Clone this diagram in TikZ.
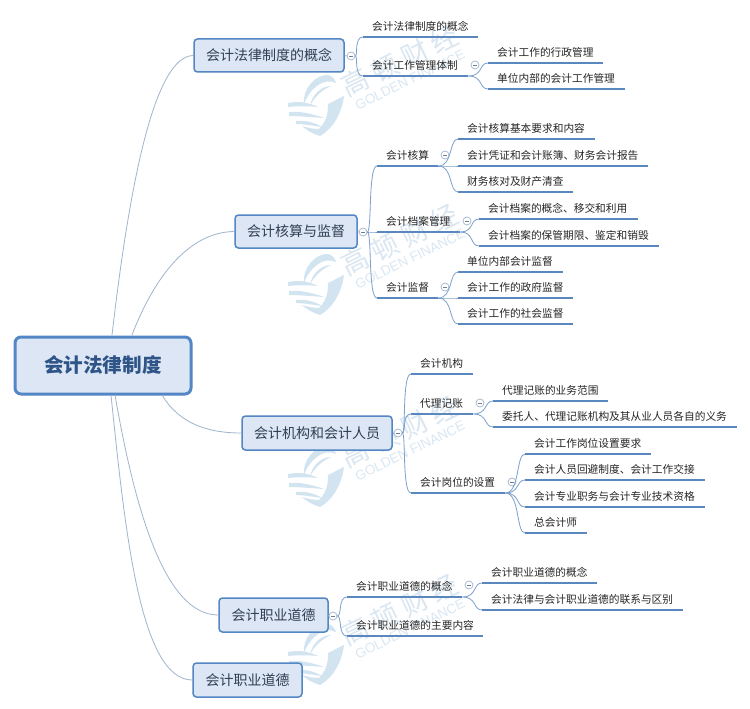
\documentclass[tikz,border=0pt]{standalone}
\usepackage{fontspec}
\setmainfont{Noto Sans CJK SC}
\newfontfamily\wmlatin{Liberation Sans}
\usetikzlibrary{calc}
\definecolor{boxfill}{HTML}{DCE6F4}
\definecolor{boxline}{HTML}{5286C4}
\definecolor{lineblue}{HTML}{5B87BF}
\definecolor{linklight}{HTML}{9FB5CE}
\definecolor{ctext}{HTML}{2F3E52}
\definecolor{subtext}{HTML}{262626}
\definecolor{roottext}{HTML}{2F5488}
\definecolor{wmc}{HTML}{D3E4F1}
\definecolor{wmt}{HTML}{DAE7F2}
\tikzset{
  rootbox/.style={draw=boxline,fill=boxfill,line width=3pt,rounded corners=6pt,font=\fontsize{19.6}{22}\selectfont\bfseries,text=roottext,inner sep=0pt},
  mainbox/.style={draw=boxline,fill=boxfill,line width=1.5pt,rounded corners=3.5pt,font=\fontsize{14}{16}\selectfont,text=ctext,inner sep=0pt},
  subtopic/.style={inner sep=0pt,minimum height=20pt,anchor=south west,align=left,font=\fontsize{10.7}{12}\selectfont,text=subtext},
  uline/.style={draw=lineblue,line width=1.8pt},
  link/.style={draw=linklight,line width=0.8pt},
  branch/.style={draw=lineblue!80!white,line width=0.8pt},
  fold/.style={circle,draw=linklight,fill=white,line width=0.7pt,minimum size=8pt,inner sep=0pt},
  wmcn/.style={text=wmt,inner sep=0pt}
}
% underlined topic: name, x0, x1, y of line, text offset, text
\newcommand{\subt}[6]{%
  \pgfmathsetlengthmacro{\subw}{(#3-#2)*1pt}%
  \node[subtopic,text width=\subw] (#1) at (#2,#4) {\hspace*{#5pt}#6};%
  \draw[uline] (#1.south west) -- (#1.south east);%
}
% fold mark with minus sign
\newcommand{\foldm}[3]{%
  \node[fold] (#1) at (#2,#3) {};%
  \draw[draw=linklight!70!black,line width=0.6pt] ([xshift=-2pt]#1.center) -- ([xshift=2pt]#1.center);%
}
% bracket-like branch
\newcommand{\brn}[2]{%
  \draw[branch] let \p1=(#1),\p2=(#2) in (\p1) .. controls (\x2-5pt,\y1) and (\x2-9pt,\y2) .. (\p2);%
}
% watermark
\newcommand{\wmark}[3]{%
  \begin{scope}[shift={(#2,#3)}]
    \fill[wmc] (-12,0) .. controls (-14,-15) and (0,-30) .. (12,-29) .. controls (16,-28) and (19,-25) .. (20,-21)
       .. controls (8,-27) and (-6,-16) .. (-12,0) -- cycle;
    \fill[wmc] (-6,2) .. controls (-4,-10) and (6,-18) .. (15,-18) .. controls (6,-14) and (-2,-7) .. (-6,2) -- cycle;
    \fill[wmc] (-28,-1) .. controls (-18,-3) and (-8,-2) .. (2,3) .. controls (-8,2) and (-18,2) .. (-28,3) -- cycle;
    \fill[wmc] (-27,8) .. controls (-18,7) and (-6,9) .. (8,14) .. controls (-6,13) and (-18,12) .. (-27,12) -- cycle;
    \fill[wmc] (-20,17) .. controls (-12,16) and (-2,18) .. (6,23) .. controls (-2,22) and (-12,20) .. (-20,20) -- cycle;
    \fill[wmc] (28,-8) .. controls (26,8) and (18,24) .. (4,32) .. controls (-3,30) and (-10,26) .. (-14,22)
       .. controls (-8,24) and (-2,25) .. (3,25) .. controls (12,16) and (12,6) .. (12,0)
       .. controls (17,-2) and (23,-6) .. (28,-8) -- cycle;
    \node[wmcn,rotate=26,font=\fontsize{27}{29}\selectfont] (#1a) at (84,-43) {高\hspace{6pt}顿\hspace{6pt}财\hspace{6pt}经};
    \node[wmcn,rotate=26,font=\wmlatin\fontsize{13.5}{15}\selectfont] (#1b) at (94,-24) {GOLDEN FINANCE};
  \end{scope}%
}
\begin{document}
\begin{tikzpicture}[x=1pt,y=-1pt]
\useasboundingbox[fill=white] (0,0) rectangle (750,709);
\wmark{wa}{316}{104}
\wmark{wb}{316}{283}
\wmark{wc}{316}{475}
\wmark{wd}{316}{653}

% root and main topics
\node[rootbox,minimum width=176pt,minimum height=57pt] (root) at (103,365.5) {会计法律制度};
\node[mainbox,minimum width=150pt,minimum height=33pt] (A) at (269,55.5) {会计法律制度的概念};
\node[mainbox,minimum width=122pt,minimum height=33pt] (B) at (296,231.5) {会计核算与监督};
\node[mainbox,minimum width=150pt,minimum height=34pt] (C) at (317,433) {会计机构和会计人员};
\node[mainbox,minimum width=109pt,minimum height=34pt] (D) at (273.5,615) {会计职业道德};
\node[mainbox,minimum width=109pt,minimum height=34pt] (E) at (247.5,680) {会计职业道德};

\coordinate (rA) at (112,335);
\coordinate (rB) at (132,335);
\coordinate (rC) at (162,395);
\coordinate (rD) at (115,395);
\coordinate (rE) at (111,395);
\draw[link] (rA) .. controls (130,180) and (155,56) .. (A.west);
\draw[link] (rB) .. controls (155,275) and (190,232) .. (B.west);
\draw[link] (rC) .. controls (180,425) and (210,433) .. (C.west);
\draw[link] (rD) .. controls (135,510) and (165,615) .. (D.west);
\draw[link] (rE) .. controls (125,530) and (140,680) .. (E.west);

% fold marks
\foldm{fA}{351}{56}
\foldm{fB}{363}{232}
\foldm{fC}{398}{433}
\foldm{fD}{333}{616}
\foldm{fa2}{475}{65}
\foldm{fb1}{445}{155}
\foldm{fb2}{467}{221}
\foldm{fb3}{445}{287}
\foldm{fc2}{480}{403}
\foldm{fc3}{512}{482}
\foldm{fd1}{469}{585}

% branch A
\subt{a1}{363}{478}{37}{9}{会计法律制度的概念}
\subt{a2}{363}{468}{76}{9}{会计工作管理体制}
\subt{a21}{488}{603}{63}{9}{会计工作的行政管理}
\subt{a22}{488}{625}{89}{9}{单位内部的会计工作管理}
% branch B
\subt{b1}{377}{438}{166}{9}{会计核算}
\subt{b11}{458}{595}{139}{9}{会计核算基本要求和内容}
\subt{b12}{458}{648}{166}{9}{会计凭证和会计账簿、财务会计报告}
\subt{b13}{458}{573}{192}{9}{财务核对及财产清查}
\subt{b2}{377}{460}{232}{9}{会计档案管理}
\subt{b21}{479}{638}{219}{9}{会计档案的概念、移交和利用}
\subt{b22}{479}{659}{246}{9}{会计档案的保管期限、鉴定和销毁}
\subt{b3}{377}{438}{298}{9}{会计监督}
\subt{b31}{458}{563}{272}{9}{单位内部会计监督}
\subt{b32}{458}{573}{298}{9}{会计工作的政府监督}
\subt{b33}{458}{573}{324}{9}{会计工作的社会监督}
% branch C
\subt{c1}{411}{473}{374}{9}{会计机构}
\subt{c2}{411}{473}{414}{9}{代理记账}
\subt{c21}{493}{608}{401}{9}{代理记账的业务范围}
\subt{c22}{493}{737}{427}{9}{委托人、代理记账机构及其从业人员各自的义务}
\subt{c3}{411}{505}{493}{9}{会计岗位的设置}
\subt{c31}{525}{651}{454}{9}{会计工作岗位设置要求}
\subt{c32}{525}{705}{480}{9}{会计人员回避制度、会计工作交接}
\subt{c33}{525}{705}{507}{9}{会计专业职务与会计专业技术资格}
\subt{c34}{525}{587}{533}{9}{总会计师}
% branch D
\subt{d1}{347}{462}{597}{9}{会计职业道德的概念}
\subt{d11}{482}{597}{583}{9}{会计职业道德的概念}
\subt{d12}{482}{683}{610}{9}{会计法律与会计职业道德的联系与区别}
\subt{d2}{347}{483}{636}{9}{会计职业道德的主要内容}

% connectors
\draw[link] (A.east) -- (fA.west);
\draw[link] (B.east) -- (fB.west);
\draw[link] (C.east) -- (fC.west);
\draw[link] (D.east) -- (fD.west);
\brn{fA.east}{a1.south west}
\brn{fA.east}{a2.south west}
\brn{a2.south east}{a21.south west}
\brn{a2.south east}{a22.south west}
\brn{fB.east}{b1.south west}
\brn{fB.east}{b2.south west}
\brn{fB.east}{b3.south west}
\brn{b1.south east}{b11.south west}
\brn{b1.south east}{b12.south west}
\brn{b1.south east}{b13.south west}
\brn{b2.south east}{b21.south west}
\brn{b2.south east}{b22.south west}
\brn{b3.south east}{b31.south west}
\brn{b3.south east}{b32.south west}
\brn{b3.south east}{b33.south west}
\brn{fC.east}{c1.south west}
\brn{fC.east}{c2.south west}
\brn{fC.east}{c3.south west}
\brn{c2.south east}{c21.south west}
\brn{c2.south east}{c22.south west}
\brn{c3.south east}{c31.south west}
\brn{c3.south east}{c32.south west}
\brn{c3.south east}{c33.south west}
\brn{c3.south east}{c34.south west}
\brn{fD.east}{d1.south west}
\brn{fD.east}{d2.south west}
\brn{d1.south east}{d11.south west}
\brn{d1.south east}{d12.south west}
\end{tikzpicture}
\end{document}
